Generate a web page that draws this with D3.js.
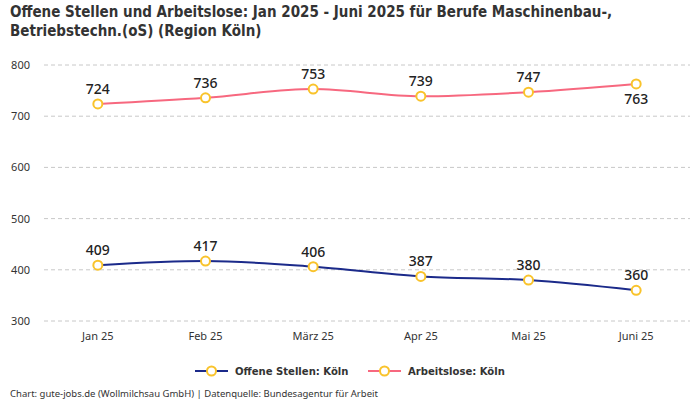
<!DOCTYPE html>
<html>
<head>
<meta charset="utf-8">
<script src="https://cdn.jsdelivr.net/npm/d3@7"></script>
<style>
  body { margin: 0; background: #fff; }
  svg { display: block; font-family: "Noto Sans", sans-serif; }
</style>
</head>
<body>
<script>
// Offene Stellen / Arbeitslose, Region Köln
const width = 700, height = 400;

const months = ["Jan 25", "Feb 25", "März 25", "Apr 25", "Mai 25", "Juni 25"];
const offeneStellen = [409, 417, 406, 387, 380, 360];
const arbeitslose = [724, 736, 753, 739, 747, 763];
const yTicks = [300, 400, 500, 600, 700, 800];

const series = [
    { name: "Offene Stellen: Köln", values: offeneStellen, color: "#1b2a8a" },
    { name: "Arbeitslose: Köln", values: arbeitslose, color: "#f7687f" }
];

const margin = { top: 65, right: 10, bottom: 79, left: 44 };
const condensed = "'DejaVu Sans Condensed', 'Liberation Sans Narrow', sans-serif";

const svg = d3.select("body").append("svg")
    .attr("width", width)
    .attr("height", height);

const x = d3.scalePoint()
    .domain(months)
    .range([margin.left, width - margin.right])
    .padding(0.5);

const y = d3.scaleLinear()
    .domain([300, 800])
    .range([height - margin.bottom, margin.top]);

// title
["Offene Stellen und Arbeitslose: Jan 2025 - Juni 2025 für Berufe Maschinenbau-,",
 "Betriebstechn.(oS) (Region Köln)"].forEach((t, i) => {
    svg.append("text")
        .attr("x", 10).attr("y", 17 + i * 19)
        .attr("font-family", condensed)
        .attr("font-weight", "bold")
        .attr("font-size", "15px")
        .attr("fill", "#333")
        .text(t);
});

// grid + y labels
const grid = svg.append("g");
grid.selectAll("line")
    .data(yTicks)
    .enter().append("line")
    .attr("x1", margin.left).attr("x2", width - margin.right)
    .attr("y1", d => y(d)).attr("y2", d => y(d))
    .attr("stroke", "#c8c8c8")
    .attr("stroke-dasharray", "4,3");
grid.selectAll("text")
    .data(yTicks)
    .enter().append("text")
    .attr("x", 30)
    .attr("y", d => y(d) + 4)
    .attr("text-anchor", "end")
    .attr("font-size", "11px")
    .attr("fill", "#333")
    .text(d => d);

// x labels
svg.append("g").selectAll("text")
    .data(months)
    .enter().append("text")
    .attr("x", d => x(d))
    .attr("y", height - margin.bottom + 19)
    .attr("text-anchor", "middle")
    .attr("font-size", "11px")
    .attr("fill", "#333")
    .text(d => d);

const line = d3.line()
    .x((d, i) => x(months[i]))
    .y(d => y(d))
    .curve(d3.curveMonotoneX);

series.forEach(s => {
    svg.append("path")
        .attr("d", line(s.values))
        .attr("fill", "none")
        .attr("stroke", s.color)
        .attr("stroke-width", 2);

    svg.append("g").selectAll("circle")
        .data(s.values)
        .enter().append("circle")
        .attr("cx", (d, i) => x(months[i]))
        .attr("cy", d => y(d))
        .attr("r", 4.5)
        .attr("fill", "#fff")
        .attr("stroke", "#f9c32b")
        .attr("stroke-width", 2);

    svg.append("g").selectAll("text")
        .data(s.values)
        .enter().append("text")
        .attr("x", (d, i) => x(months[i]))
        .attr("y", (d, i) => (s === series[1] && i === s.values.length - 1) ? y(d) + 20 : y(d) - 10)
        .attr("text-anchor", "middle")
        .attr("font-size", "14px")
        .attr("font-weight", 500)
        .attr("fill", "#222")
        .text(d => d);
});

// legend
const legendX = [195, 368];
series.forEach((s, i) => {
    const g = svg.append("g").attr("transform", `translate(${legendX[i]},371)`);
    g.append("line")
        .attr("x1", 0).attr("x2", 33)
        .attr("stroke", s.color).attr("stroke-width", 2);
    g.append("circle")
        .attr("cx", 16.5).attr("r", 4.5)
        .attr("fill", "#fff").attr("stroke", "#f9c32b").attr("stroke-width", 2);
    g.append("text")
        .attr("x", 40).attr("y", 4)
        .attr("font-family", condensed)
        .attr("font-weight", "bold")
        .attr("font-size", "11.2px")
        .attr("fill", "#333")
        .text(s.name);
});

// footer
svg.append("text")
    .attr("x", 10).attr("y", 397)
    .attr("font-size", "9.5px")
    .attr("fill", "#333")
    .text("Chart: gute-jobs.de (Wollmilchsau GmbH) | Datenquelle: Bundesagentur für Arbeit");
</script>
</body>
</html>
